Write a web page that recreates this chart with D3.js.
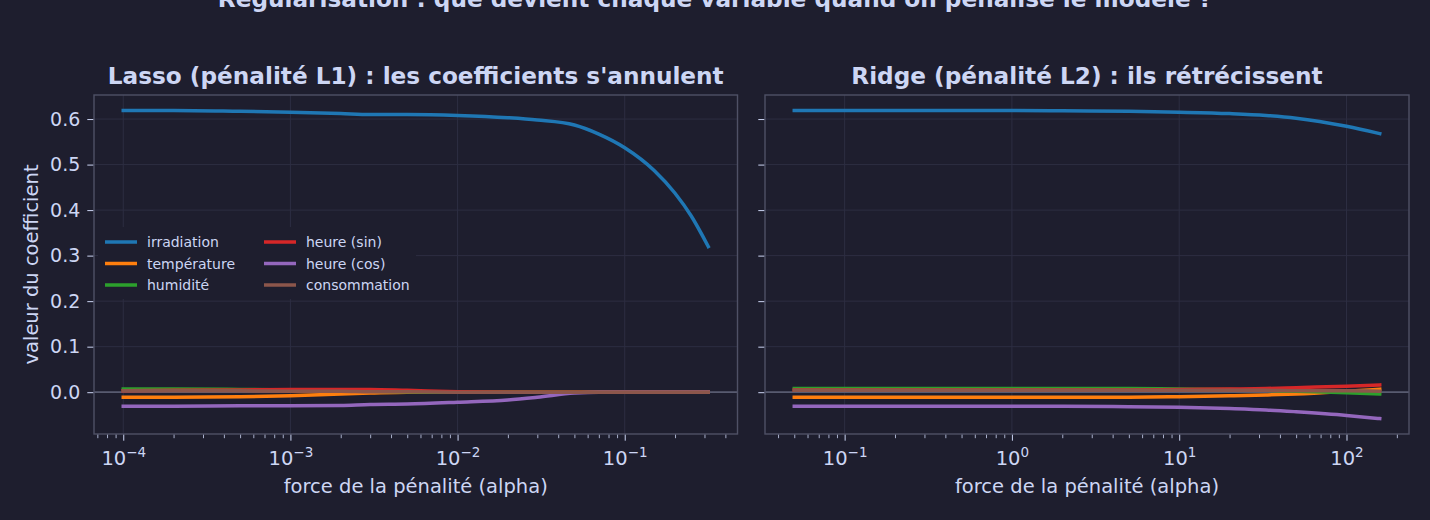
<!doctype html>
<html lang="fr">
<head>
  <meta charset="UTF-8">
  <title>Régularisation : Lasso vs Ridge</title>
  <script src="https://cdn.jsdelivr.net/npm/d3@7/dist/d3.min.js"></script>
  <style>
  html, body {
    margin: 0;
    padding: 0;
    background-color: #1e1e2e;
  }
  svg text {
    font-family: "DejaVu Sans", sans-serif;
    fill: #cdd6f4;
  }
  </style>
</head>
<body>

<script>

// noms des variables et couleurs (ordre du tracé)
var features = ["irradiation", "température", "humidité", "heure (sin)", "heure (cos)", "consommation"];
var colors = ["#1f77b4", "#ff7f0e", "#2ca02c", "#d62728", "#9467bd", "#8c564b"];

// Lasso : valeurs de alpha et coefficients
var lassoAlpha = [1e-4, 2e-4, 5e-4, 1e-3, 2e-3, 3e-3, 5e-3, 1e-2, 2e-2, 3e-2, 5e-2, 7e-2, 0.1, 0.15, 0.2, 0.25, 0.316];
var lassoIrradiation = [0.619, 0.619, 0.617, 0.615, 0.612, 0.610, 0.610, 0.608, 0.603, 0.598, 0.587, 0.567, 0.537, 0.487, 0.437, 0.387, 0.320];
var lassoTemperature = [-0.011, -0.011, -0.010, -0.008, -0.004, -0.002, 0, 0, 0, 0, 0, 0, 0, 0, 0, 0, 0];
var lassoHumidite = [0.007, 0.007, 0.006, 0.005, 0.003, 0.002, 0.001, 0, 0, 0, 0, 0, 0, 0, 0, 0, 0];
var lassoHeureSin = [0.003, 0.004, 0.005, 0.006, 0.006, 0.006, 0.004, 0.001, 0, 0, 0, 0, 0, 0, 0, 0, 0];
var lassoHeureCos = [-0.031, -0.031, -0.030, -0.030, -0.029, -0.027, -0.026, -0.022, -0.017, -0.011, -0.002, 0, 0, 0, 0, 0, 0];
var lassoConsommation = [0.003, 0.003, 0.003, 0.002, 0.002, 0.001, 0.001, 0, 0, 0, 0, 0, 0, 0, 0, 0, 0];

// Ridge
var ridgeAlpha = [0.05, 0.1, 0.2, 0.5, 1, 2, 5, 10, 20, 33, 50, 100, 158];
var ridgeIrradiation = [0.619, 0.619, 0.619, 0.619, 0.619, 0.618, 0.617, 0.615, 0.612, 0.608, 0.602, 0.584, 0.568];
var ridgeTemperature = [-0.011, -0.011, -0.011, -0.011, -0.011, -0.011, -0.011, -0.010, -0.008, -0.006, -0.004, 0.002, 0.0066];
var ridgeHumidite = [0.008, 0.008, 0.008, 0.008, 0.008, 0.008, 0.008, 0.007, 0.006, 0.004, 0.002, -0.001, -0.004];
var ridgeHeureSin = [0.005, 0.005, 0.005, 0.005, 0.005, 0.005, 0.005, 0.006, 0.007, 0.008, 0.010, 0.013, 0.016];
var ridgeHeureCos = [-0.031, -0.031, -0.031, -0.031, -0.031, -0.031, -0.032, -0.033, -0.036, -0.039, -0.043, -0.051, -0.058];
var ridgeConsommation = [0.004, 0.004, 0.004, 0.004, 0.004, 0.004, 0.004, 0.004, 0.004, 0.004, 0.003, 0.003, 0.002];

var yTicks = [0.0, 0.1, 0.2, 0.3, 0.4, 0.5, 0.6];

var lassoSeries = [lassoIrradiation, lassoTemperature, lassoHumidite, lassoHeureSin, lassoHeureCos, lassoConsommation];
var ridgeSeries = [ridgeIrradiation, ridgeTemperature, ridgeHumidite, ridgeHeureSin, ridgeHeureCos, ridgeConsommation];

var w = 1430;
var h = 520;
var plotTop = 95, plotBottom = 434;

var svg = d3.select('body')
  .append('svg')
  .attr('width', w)
  .attr('height', h);

svg.append('rect')
  .attr('width', w)
  .attr('height', h)
  .attr('fill', '#1e1e2e');

// axe y partagé, marge de 5 %
var allVals = d3.merge(lassoSeries.concat(ridgeSeries));
var yMin = d3.min(allVals), yMax = d3.max(allVals);
var yPad = (yMax - yMin) * 0.05;
var y = d3.scaleLinear()
  .domain([yMin - yPad, yMax + yPad])
  .range([plotBottom, plotTop]);

function logDomain(a) {
  var lo = Math.log10(d3.min(a)), hi = Math.log10(d3.max(a));
  var pad = (hi - lo) * 0.05;
  return [Math.pow(10, lo - pad), Math.pow(10, hi + pad)];
}

function supLabel(sel, d) {
  var e = Math.round(Math.log10(d));
  sel.append('tspan').text('10');
  sel.append('tspan')
    .attr('dy', -7.5)
    .attr('font-size', '13.5px')
    .text(e < 0 ? '\u2212' + (-e) : String(e));
}

function panel(x0, x1, alphas, series, title, showY, showLegend) {
  var x = d3.scaleLog()
    .domain(logDomain(alphas))
    .range([x0, x1]);
  var g = svg.append('g');

  g.append('rect')
    .attr('x', x0).attr('y', plotTop)
    .attr('width', x1 - x0).attr('height', plotBottom - plotTop)
    .attr('fill', '#1e1e2e');

  var dom = x.domain();
  var majors = [], minors = [];
  for (var k = Math.floor(Math.log10(dom[0])); k <= Math.ceil(Math.log10(dom[1])); k++) {
    for (var m = 1; m < 10; m++) {
      var v = m * Math.pow(10, k);
      if (v < dom[0] || v > dom[1]) continue;
      if (m === 1) majors.push(v); else minors.push(v);
    }
  }

  // grille
  g.selectAll('.gx')
    .data(majors)
    .enter()
    .append('line')
    .attr('x1', function(d) { return x(d); })
    .attr('x2', function(d) { return x(d); })
    .attr('y1', plotTop).attr('y2', plotBottom)
    .attr('stroke', '#2d2e42')
    .attr('stroke-width', 1);

  g.selectAll('.gy')
    .data(yTicks)
    .enter()
    .append('line')
    .attr('x1', x0).attr('x2', x1)
    .attr('y1', function(d) { return y(d); })
    .attr('y2', function(d) { return y(d); })
    .attr('stroke', '#2d2e42')
    .attr('stroke-width', 1);

  // ligne zéro
  g.append('line')
    .attr('x1', x0).attr('x2', x1)
    .attr('y1', y(0)).attr('y2', y(0))
    .attr('stroke', '#585b70')
    .attr('stroke-width', 1.8);

  var line = d3.line()
    .x(function(d, i) { return x(alphas[i]); })
    .y(function(d) { return y(d); })
    .curve(d3.curveMonotoneX);

  g.selectAll('.curve')
    .data(series)
    .enter()
    .append('path')
    .attr('d', line)
    .attr('fill', 'none')
    .attr('stroke', function(d, i) { return colors[i]; })
    .attr('stroke-width', 3.5)
    .attr('stroke-linecap', 'square')
    .attr('stroke-linejoin', 'round');

  // cadre
  g.append('rect')
    .attr('x', x0).attr('y', plotTop)
    .attr('width', x1 - x0).attr('height', plotBottom - plotTop)
    .attr('fill', 'none')
    .attr('stroke', '#4f5166')
    .attr('stroke-width', 1.4);

  // axe x
  var xAxis = d3.axisBottom(x)
    .tickValues(majors)
    .tickSize(6)
    .tickFormat('');
  var ax = g.append('g')
    .attr('transform', 'translate(0,' + (plotBottom + 0.7) + ')')
    .call(xAxis);
  ax.select('.domain').remove();
  ax.selectAll('.tick line').attr('stroke', '#cdd6f4');

  ax.selectAll('.tick')
    .append('text')
    .attr('y', 30)
    .attr('text-anchor', 'middle')
    .attr('font-size', '19.5px')
    .each(function(d) { supLabel(d3.select(this), d); });

  var minorAxis = d3.axisBottom(x)
    .tickValues(minors)
    .tickSize(3.5)
    .tickFormat('');
  var mx = g.append('g')
    .attr('transform', 'translate(0,' + (plotBottom + 0.7) + ')')
    .call(minorAxis);
  mx.select('.domain').remove();
  mx.selectAll('.tick line').attr('stroke', '#cdd6f4').attr('stroke-width', 0.8);

  // axe y
  var yAxis = d3.axisLeft(y)
    .tickValues(yTicks)
    .tickSize(6)
    .tickPadding(7)
    .tickFormat(showY ? d3.format('.1f') : '');
  var ay = g.append('g')
    .attr('transform', 'translate(' + (x0 - 0.7) + ',0)')
    .call(yAxis);
  ay.select('.domain').remove();
  ay.selectAll('.tick line').attr('stroke', '#cdd6f4');
  ay.selectAll('.tick text')
    .attr('font-size', '19px')
    .attr('fill', '#cdd6f4')
    .attr('font-family', '"DejaVu Sans", sans-serif');

  // titres
  g.append('text')
    .attr('x', (x0 + x1) / 2)
    .attr('y', 84)
    .attr('text-anchor', 'middle')
    .attr('font-size', '23.2px')
    .attr('font-weight', 'bold')
    .text(title);

  g.append('text')
    .attr('x', (x0 + x1) / 2)
    .attr('y', 493)
    .attr('text-anchor', 'middle')
    .attr('font-size', '19.5px')
    .text('force de la pénalité (alpha)');

  if (showY) {
    g.append('text')
      .attr('transform', 'translate(38,' + ((plotTop + plotBottom) / 2) + ') rotate(-90)')
      .attr('text-anchor', 'middle')
      .attr('font-size', '19.5px')
      .text('valeur du coefficient');
  }

  if (showLegend) {
    var lg = g.append('g');
    lg.append('rect')
      .attr('x', 98).attr('y', 227)
      .attr('width', 318).attr('height', 72)
      .attr('fill', '#1e1e2e');
    var item = lg.selectAll('.item')
      .data(features)
      .enter()
      .append('g')
      .attr('transform', function(d, i) {
        return 'translate(' + (i < 3 ? 105 : 264) + ',' + (242 + (i % 3) * 21.5) + ')';
      });
    item.append('line')
      .attr('x1', 0).attr('x2', 32)
      .attr('stroke', function(d, i) { return colors[i]; })
      .attr('stroke-width', 3.5);
    item.append('text')
      .attr('x', 42)
      .attr('y', 5)
      .attr('font-size', '14px')
      .text(function(d) { return d; });
  }
}

panel(94, 737.5, lassoAlpha, lassoSeries, "Lasso (pénalité L1) : les coefficients s'annulent", true, true);
panel(765, 1409, ridgeAlpha, ridgeSeries, "Ridge (pénalité L2) : ils rétrécissent", false, false);

// titre général, coupé en haut comme sur l'original
svg.append('text')
  .attr('x', 715)
  .attr('y', 7)
  .attr('text-anchor', 'middle')
  .attr('font-size', '23.2px')
  .attr('font-weight', 'bold')
  .text('Régularisation : que devient chaque variable quand on pénalise le modèle ?');

</script>

</body>
</html>
